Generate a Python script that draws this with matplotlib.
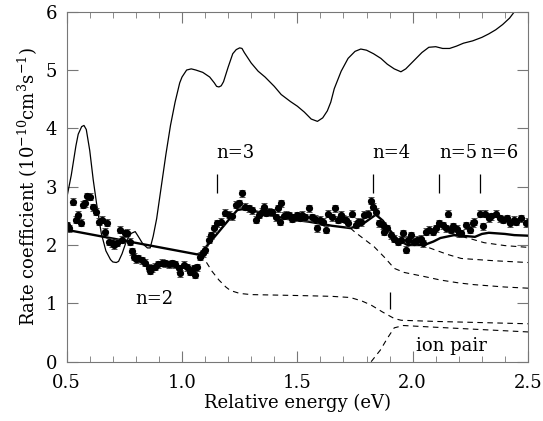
import numpy as np
import matplotlib
matplotlib.use('Agg')
import matplotlib.pyplot as plt
from matplotlib.ticker import MultipleLocator

plt.rcParams['font.family'] = ['DejaVu Serif']
plt.rcParams['mathtext.fontset'] = 'dejavuserif'

# measured rate coefficients (eV, 1e-10 cm^3 s^-1)
exp_x = [0.500, 0.508, 0.529, 0.540, 0.550, 0.561, 0.572, 0.580, 0.590, 0.600,
         0.616, 0.627, 0.642, 0.652, 0.667, 0.674, 0.685, 0.696, 0.703, 0.717,
         0.732, 0.739, 0.753, 0.761, 0.775, 0.783, 0.790, 0.800, 0.811, 0.826,
         0.840, 0.855, 0.862, 0.870, 0.885, 0.898, 0.913, 0.927, 0.942, 0.956,
         0.970, 0.985, 0.993, 1.007, 1.020, 1.036, 1.050, 1.058, 1.065, 1.080,
         1.090, 1.100, 1.116, 1.125, 1.137, 1.152, 1.167, 1.188, 1.203, 1.217,
         1.232, 1.246, 1.261, 1.275, 1.290, 1.304, 1.319, 1.333, 1.345, 1.355,
         1.366, 1.377, 1.391, 1.406, 1.416, 1.424, 1.430, 1.440, 1.450, 1.465,
         1.475, 1.485, 1.500, 1.510, 1.520, 1.535, 1.550, 1.565, 1.575, 1.587,
         1.600, 1.612, 1.623, 1.635, 1.652, 1.662, 1.675, 1.690, 1.700, 1.710,
         1.720, 1.735, 1.755, 1.765, 1.777, 1.790, 1.806, 1.819, 1.830, 1.840,
         1.855, 1.870, 1.877, 1.890, 1.906, 1.920, 1.935, 1.950, 1.957, 1.971,
         1.980, 1.993, 2.005, 2.020, 2.036, 2.043, 2.058, 2.070, 2.087, 2.100,
         2.116, 2.130, 2.145, 2.155, 2.165, 2.175, 2.190, 2.200, 2.210, 2.230,
         2.250, 2.260, 2.268, 2.290, 2.305, 2.312, 2.330, 2.340, 2.360, 2.380,
         2.390, 2.410, 2.420, 2.440, 2.450, 2.470, 2.490, 2.500]
exp_y = [2.34, 2.29, 2.74, 2.43, 2.52, 2.38, 2.69, 2.72, 2.84, 2.83,
         2.65, 2.57, 2.40, 2.43, 2.23, 2.38, 2.06, 2.03, 2.00, 2.04,
         2.26, 2.09, 2.20, 2.21, 2.06, 1.89, 1.80, 1.76, 1.77, 1.74,
         1.70, 1.61, 1.56, 1.60, 1.63, 1.67, 1.70, 1.69, 1.67, 1.69,
         1.67, 1.60, 1.52, 1.66, 1.62, 1.54, 1.60, 1.49, 1.62, 1.80,
         1.86, 1.92, 2.09, 2.17, 2.29, 2.37, 2.40, 2.55, 2.52, 2.49,
         2.69, 2.72, 2.89, 2.66, 2.63, 2.60, 2.43, 2.52, 2.57, 2.66,
         2.55, 2.57, 2.56, 2.48, 2.63, 2.40, 2.72, 2.50, 2.52, 2.51,
         2.45, 2.48, 2.51, 2.47, 2.52, 2.48, 2.63, 2.48, 2.45, 2.29,
         2.43, 2.40, 2.26, 2.54, 2.48, 2.63, 2.43, 2.52, 2.45, 2.43,
         2.37, 2.54, 2.35, 2.40, 2.39, 2.52, 2.54, 2.76, 2.66, 2.57,
         2.37, 2.34, 2.23, 2.29, 2.17, 2.11, 2.06, 2.09, 2.20, 1.92,
         2.09, 2.17, 2.06, 2.09, 2.11, 2.03, 2.23, 2.26, 2.23, 2.29,
         2.37, 2.34, 2.29, 2.54, 2.26, 2.32, 2.28, 2.20, 2.20, 2.34,
         2.26, 2.37, 2.40, 2.54, 2.32, 2.54, 2.46, 2.49, 2.54, 2.46,
         2.43, 2.46, 2.37, 2.43, 2.40, 2.46, 2.37, 2.40]
exp_err = 0.06

# theory (thin line)
th_x = [0.50, 0.52, 0.54, 0.55, 0.565, 0.575, 0.585, 0.60, 0.615, 0.63, 0.65,
        0.67, 0.69, 0.70, 0.715, 0.725, 0.74, 0.76, 0.78, 0.797, 0.81, 0.83,
        0.85, 0.862, 0.875, 0.89, 0.91, 0.93, 0.95, 0.97, 0.99, 1.00, 1.02,
        1.04, 1.06, 1.09, 1.12, 1.14, 1.15, 1.16, 1.17, 1.18, 1.20, 1.22,
        1.235, 1.25, 1.26, 1.27, 1.30, 1.33, 1.36, 1.40, 1.43, 1.47, 1.50,
        1.53, 1.56, 1.587, 1.61, 1.63, 1.645, 1.66, 1.69, 1.72, 1.75, 1.775,
        1.80, 1.83, 1.862, 1.89, 1.92, 1.949, 1.97, 1.99, 2.01, 2.04, 2.07,
        2.10, 2.13, 2.16, 2.19, 2.22, 2.26, 2.30, 2.33, 2.36, 2.39, 2.42, 2.445]
th_y = [2.80, 3.20, 3.70, 3.90, 4.03, 4.05, 3.98, 3.62, 3.12, 2.70, 2.20,
        1.90, 1.75, 1.71, 1.70, 1.72, 1.85, 2.08, 2.20, 2.23, 2.15, 2.02,
        1.95, 1.95, 2.15, 2.45, 3.00, 3.55, 4.05, 4.45, 4.78, 4.88, 5.00,
        5.02, 5.00, 4.96, 4.88, 4.78, 4.72, 4.71, 4.73, 4.80, 5.05, 5.28,
        5.35, 5.38, 5.37, 5.30, 5.12, 4.98, 4.88, 4.72, 4.58, 4.46, 4.38,
        4.28, 4.16, 4.12, 4.18, 4.30, 4.45, 4.68, 4.98, 5.20, 5.32, 5.36,
        5.34, 5.28, 5.20, 5.10, 5.02, 4.97, 5.02, 5.10, 5.18, 5.30, 5.39,
        5.40, 5.37, 5.37, 5.41, 5.46, 5.50, 5.56, 5.62, 5.69, 5.78, 5.89, 6.02]

# total model (thick line)
tot_x = [0.50, 1.065, 1.08, 1.12, 1.16, 1.20, 1.24, 1.27, 1.35, 1.45, 1.55, 1.65,
         1.73, 1.78, 1.84, 1.87, 1.90, 1.935, 1.978, 2.05, 2.09, 2.12, 2.18,
         2.24, 2.27, 2.30, 2.33, 2.40, 2.44, 2.50]
tot_y = [2.26, 1.84, 1.86, 2.04, 2.23, 2.42, 2.60, 2.62, 2.55, 2.45, 2.40, 2.33,
         2.29, 2.35, 2.52, 2.42, 2.26, 2.09, 2.00, 2.00, 2.06, 2.12, 2.17,
         2.15, 2.14, 2.19, 2.21, 2.19, 2.17, 2.16]

# partial contributions (dashed)
n2_x = [1.08, 1.10, 1.13, 1.16, 1.19, 1.21, 1.25, 1.30, 1.43, 1.55, 1.65, 1.73,
        1.78, 1.82, 1.87, 1.92, 1.95, 2.10, 2.30, 2.50]
n2_y = [1.84, 1.74, 1.55, 1.40, 1.28, 1.22, 1.17, 1.15, 1.14, 1.13, 1.12, 1.10,
        1.04, 0.97, 0.85, 0.74, 0.71, 0.69, 0.67, 0.65]
ion_x = [1.82, 1.86, 1.89, 1.92, 1.96, 2.10, 2.30, 2.50]
ion_y = [0.00, 0.20, 0.40, 0.58, 0.62, 0.59, 0.55, 0.51]
n3_x = [1.73, 1.747, 1.79, 1.833, 1.88, 1.92, 1.963, 2.05, 2.12, 2.20, 2.268, 2.40, 2.50]
n3_y = [2.29, 2.23, 2.10, 1.97, 1.78, 1.60, 1.53, 1.46, 1.40, 1.35, 1.32, 1.28, 1.26]
n4_x = [2.03, 2.06, 2.094, 2.15, 2.21, 2.28, 2.355, 2.50]
n4_y = [2.00, 1.97, 1.92, 1.84, 1.77, 1.75, 1.73, 1.70]
n5_x = [2.17, 2.24, 2.31, 2.40, 2.50]
n5_y = [2.17, 2.12, 2.04, 1.99, 1.96]

# threshold markers
thr_x = [1.15, 1.826, 2.116, 2.294]
thr_labels = ['n=3', 'n=4', 'n=5', 'n=6']

fig = plt.figure(figsize=(5.43, 4.21), dpi=100)
ax = fig.add_axes([0.1228, 0.1409, 0.8496, 0.8313])

ax.plot(th_x, th_y, color='black', lw=0.9)
ax.plot(tot_x, tot_y, color='black', lw=1.7)
for xs, ys in [(n2_x, n2_y), (ion_x, ion_y), (n3_x, n3_y), (n4_x, n4_y), (n5_x, n5_y)]:
    ax.plot(xs, ys, color='black', lw=0.8, dashes=(5, 4))

ax.errorbar(exp_x, exp_y, yerr=exp_err, fmt='o', color='black', ms=4.2,
            ecolor='#333333', elinewidth=0.6, capsize=2.5, capthick=0.6)

ax.vlines(thr_x, 2.89, 3.22, color='black', lw=0.9)
for xv, lab in zip(thr_x, thr_labels):
    ax.text(xv, 3.58, lab, fontsize=13, ha='left', va='center')
ax.vlines(1.903, 0.90, 1.20, color='black', lw=0.9)
ax.text(0.88, 1.07, 'n=2', fontsize=13, ha='center', va='center')
ax.text(2.17, 0.27, 'ion pair', fontsize=13, ha='center', va='center')

ax.set_xlim(0.5, 2.5)
ax.set_ylim(0, 6)
ax.xaxis.set_major_locator(MultipleLocator(0.5))
ax.xaxis.set_minor_locator(MultipleLocator(0.1))
ax.yaxis.set_major_locator(MultipleLocator(1))
ax.xaxis.set_major_formatter(plt.FuncFormatter(lambda v, p: f'{v:.1f}'))
ax.tick_params(which='both', direction='in', top=True, right=True,
               color='#777777', labelsize=13)
ax.tick_params(axis='x', pad=9)
ax.tick_params(axis='y', pad=7)
ax.tick_params(which='major', length=8)
ax.tick_params(which='minor', length=4)
for s in ax.spines.values():
    s.set_color('#777777')
    s.set_linewidth(0.8)

ax.set_xlabel('Relative energy (eV)', fontsize=13, labelpad=1)
ax.set_ylabel('Rate coefficient (10$^{-10}$cm$^{3}$s$^{-1}$)', fontsize=13, labelpad=4)

fig.savefig('out.png', dpi=100)
